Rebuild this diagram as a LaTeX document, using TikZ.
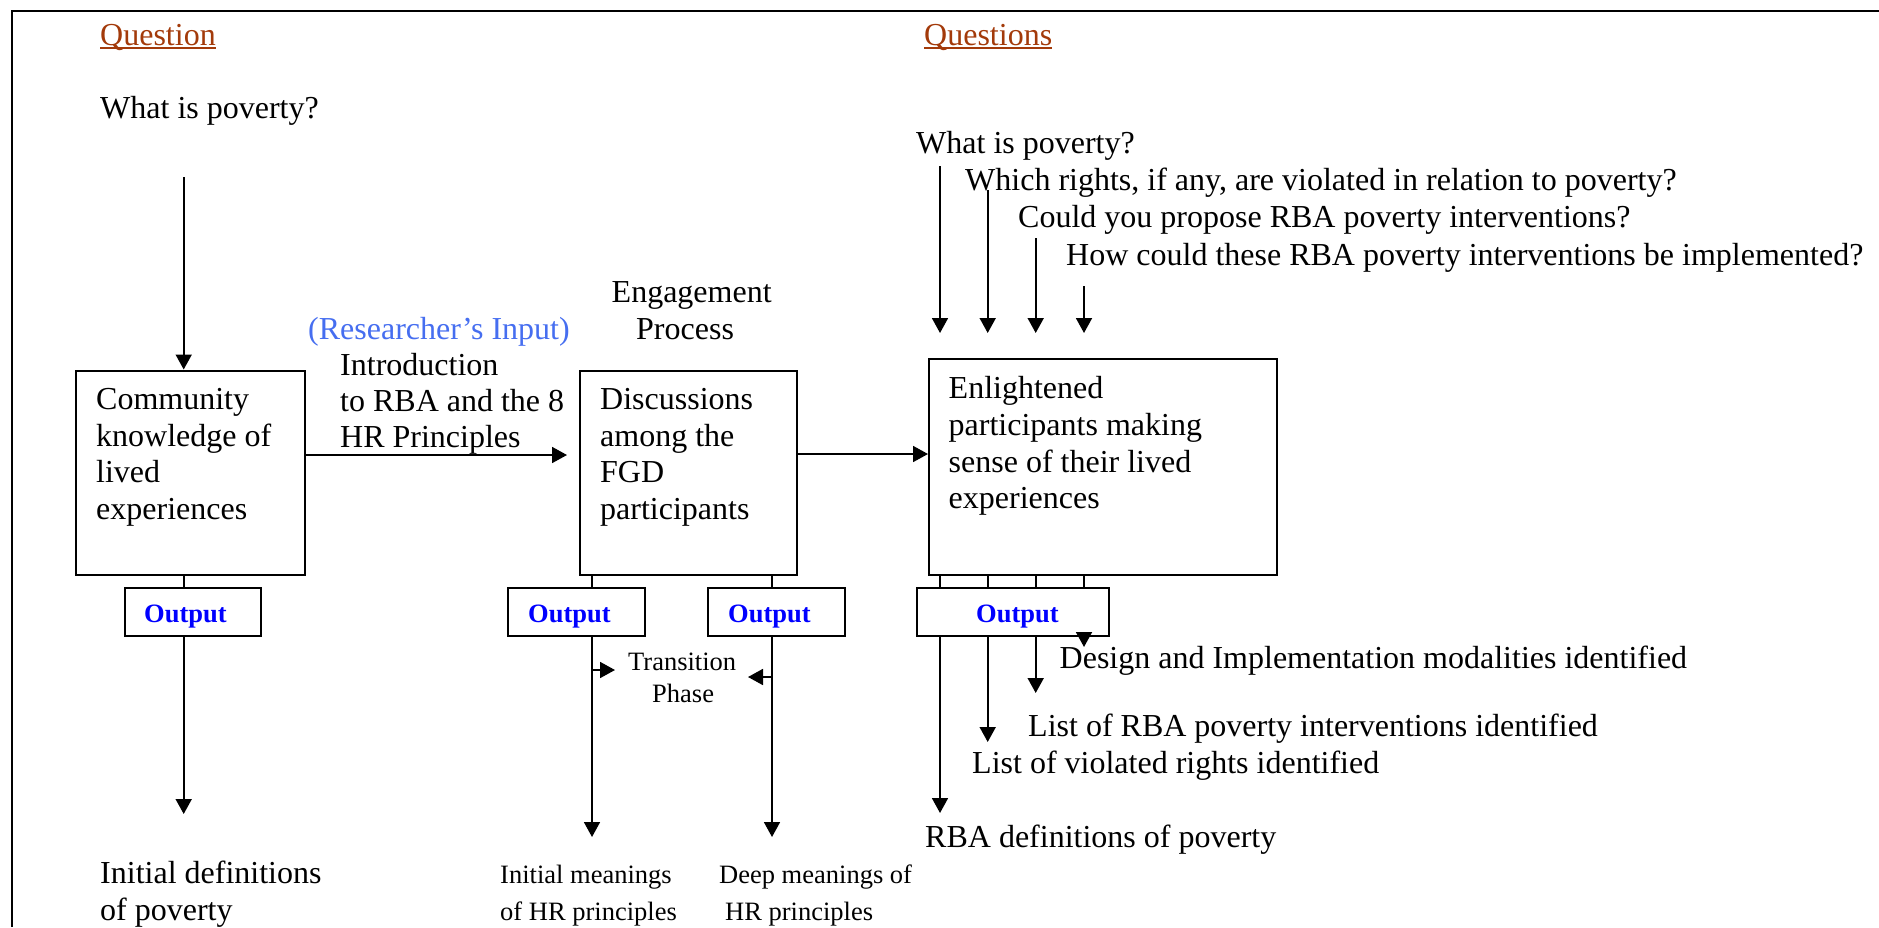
\documentclass[tikz,border=0pt]{standalone}
\usepackage{fontspec}
\setmainfont{Liberation Serif}
\usetikzlibrary{arrows.meta,calc}
\definecolor{qbrown}{RGB}{163,58,10}
\definecolor{inblue}{RGB}{70,110,240}
\definecolor{outblue}{RGB}{0,0,255}

\begin{document}
\begin{tikzpicture}[x=1pt,y=-1pt,
  txt/.style={anchor=base west,inner sep=0pt,font=\fontsize{32}{38}\selectfont},
  small/.style={anchor=base west,inner sep=0pt,font=\fontsize{26.5}{32}\selectfont},
  outtxt/.style={anchor=base west,inner sep=0pt,text=outblue,font=\fontsize{26.5}{32}\selectfont\bfseries},
  head/.style={txt,text=qbrown},
  box/.style={draw,line width=2pt,inner sep=0pt,anchor=north west},
  arr/.style={line width=1.8pt,-{Triangle[length=15pt,width=16pt]}},
  link/.style={line width=1.8pt},
  uline/.style={line width=1.8pt,qbrown}
]
\useasboundingbox (0,0) rectangle (1879,927);

% outer frame (top and left edges)
\draw[line width=2.4pt] (12,927) -- (12,11) -- (1879,11);

% headings
\node[head] (qh1) at (100,45) {Question};
\node[head] (qh2) at (924,45) {Questions};
\draw[uline] ($(qh1.base west)+(0,3)$) -- ($(qh1.base east)+(0,3)$);
\draw[uline] ($(qh2.base west)+(0,3)$) -- ($(qh2.base east)+(0,3)$);

% left question
\node[txt] (q0) at (100,118) {What is poverty?};

% stage boxes
\node[box,minimum width=229pt,minimum height=204.5pt] (b1) at (75,369.5) {};
\node[box,minimum width=217pt,minimum height=204.5pt] (b2) at (579,369.5) {};
\node[box,minimum width=348pt,minimum height=216pt] (b3) at (928,358) {};

\node[txt] (b1l1) at (96,409) {Community};
\node[txt] (b1l2) at (96,446) {knowledge of};
\node[txt] (b1l3) at (96,482) {lived};
\node[txt] (b1l4) at (96,519) {experiences};

\node[txt] (b2l1) at (600,409) {Discussions};
\node[txt] (b2l2) at (600,446) {among the};
\node[txt] (b2l3) at (600,482) {FGD};
\node[txt] (b2l4) at (600,519) {participants};

\node[txt] (b3l1) at (948.5,398) {Enlightened};
\node[txt] (b3l2) at (948.5,435) {participants making};
\node[txt] (b3l3) at (948.5,472) {sense of their lived};
\node[txt] (b3l4) at (948.5,508) {experiences};

% output boxes
\node[box,minimum width=136pt,minimum height=48pt] (o1) at (124,587) {};
\node[box,minimum width=137pt,minimum height=48pt] (o2a) at (507,587) {};
\node[box,minimum width=137pt,minimum height=48pt] (o2b) at (707,587) {};
\node[box,minimum width=192pt,minimum height=48pt] (o3) at (916,587) {};
\node[outtxt] (o1t) at (144,622) {Output};
\node[outtxt] (o2at) at (528,622) {Output};
\node[outtxt] (o2bt) at (728,622) {Output};
\node[outtxt] (o3t) at (976,622) {Output};

% researcher's input and engagement labels
\node[txt,text=inblue] (ri) at (308,339) {(Researcher’s Input)};
\node[txt] (in1) at (340,375) {Introduction};
\node[txt] (in2) at (340,411) {to RBA and the 8};
\node[txt] (in3) at (340,447) {HR Principles};
\node[txt] (en1) at (611.5,302) {Engagement};
\node[txt] (en2) at (636,339) {Process};

% right-hand questions
\node[txt] (qa) at (916,153) {What is poverty?};
\node[txt] (qb) at (965,190) {Which rights, if any, are violated in relation to poverty?};
\node[txt] (qc) at (1018,227) {Could you propose RBA poverty interventions?};
\node[txt] (qd) at (1066,265) {How could these RBA poverty interventions be implemented?};

% transition phase
\node[small] (tp1) at (628,670) {Transition};
\node[small] (tp2) at (652,702) {Phase};

% outcomes
\node[txt] (r0a) at (100,883) {Initial definitions};
\node[txt] (r0b) at (100,920) {of poverty};
\node[small] (r1a) at (500,883) {Initial meanings};
\node[small] (r1b) at (500,920) {of HR principles};
\node[small] (r2a) at (719,883) {Deep meanings of};
\node[small] (r2b) at (725,920) {HR principles};
\node[txt] (rd) at (1059.5,668) {Design and Implementation modalities identified};
\node[txt] (rc) at (1028,736) {List of RBA poverty interventions identified};
\node[txt] (rb) at (972,773) {List of violated rights identified};
\node[txt] (ra) at (925,847) {RBA definitions of poverty};

% connector anchor points
\coordinate (s1) at (183.7,177);
\coordinate (e1) at (183.7,814);
\coordinate (h1) at (567,455);
\coordinate (h2) at (860,454);
\coordinate (c2a) at (592,837);
\coordinate (c2b) at (772,837);
\coordinate (ta) at (615,670);
\coordinate (tb) at (748,677);
\coordinate (k1) at (940,166);
\coordinate (k2) at (987.7,190);
\coordinate (k3) at (1035.7,238);
\coordinate (k4) at (1084,286);
\coordinate (tip) at (0,333);
\coordinate (d1) at (940,813);
\coordinate (d2) at (987.7,742);
\coordinate (d3) at (1035.7,693);
\coordinate (d4) at (1084,647);

% left column
\draw[arr] (s1) -- (s1 |- b1.north);
\draw[link] (s1 |- b1.south) -- (s1 |- o1.north);
\draw[arr] (e1 |- o1.south) -- (e1);
\draw[arr] (b1.east |- h1) -- (h1);

% middle column
\draw[link] (c2a |- b2.south) -- (c2a |- o2a.north);
\draw[link] (c2b |- b2.south) -- (c2b |- o2b.north);
\draw[arr] (c2a |- o2a.south) -- (c2a);
\draw[arr] (c2b |- o2b.south) -- (c2b);
\draw[arr] (c2a |- ta) -- (ta);
\draw[arr] (c2b |- tb) -- (tb);
\draw[arr] (b2.east |- h2) -- (b3.west |- h2);

% right column
\foreach \k in {k1,k2,k3,k4} {
  \draw[arr] (\k) -- (\k |- tip);
  \draw[link] (\k |- b3.south) -- (\k |- o3.north);
}
\foreach \d in {d1,d2,d3,d4} {
  \draw[arr] (\d |- o3.south) -- (\d);
}
\end{tikzpicture}
\end{document}
